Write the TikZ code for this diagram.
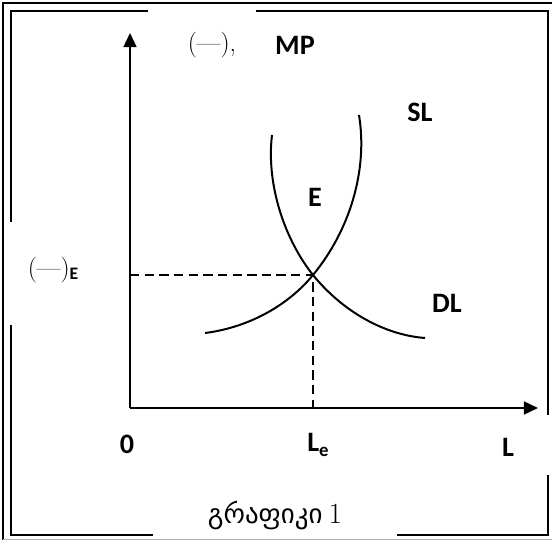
\documentclass[tikz,border=0pt]{standalone}
\usepackage{fontspec}
\setmainfont{Carlito}
\newfontfamily\geofont[Script=Georgian]{DejaVu Sans}
\newfontfamily\lmfont{Latin Modern Roman}
\usetikzlibrary{arrows.meta}

\tikzset{lbl/.style={font=\fontsize{24}{27}\selectfont\bfseries},
axis/.style={line width=1.7pt,-{Triangle[length=12pt,width=11pt]}},
curve/.style={line width=1.7pt},
guide/.style={line width=1.3pt,dash pattern=on 8pt off 4.5pt}}

\begin{document}
\begin{tikzpicture}[x=0.03cm,y=-0.03cm]
\useasboundingbox (0,0) rectangle (552,540);
\draw[line width=1.2pt](3,540)--(3,3)--(552,3);
\draw[gray!60,line width=0.8pt](3,539)--(552,539);
\draw[line width=2pt](148,11)--(11,11)--(11,222)
(11,325)--(11,535)--(153,535)
(397,535)--(548,535)--(548,475)
(548,415)--(548,11)--(256,11);
\coordinate (O) at (130,408);
\coordinate (ytip) at (130,33);
\coordinate (xtip) at (538,408);
\coordinate (eq) at (313,275);
\coordinate (yeq) at (130,275);
\coordinate (xeq) at (313,408);
\draw[axis](O)--(ytip);
\draw[axis](O)--(xtip);
\draw[guide](yeq)--(eq)--(xeq);
\draw[curve](359,115)..controls(368,170)and(350,230)..(eq)..controls(286,308)and(245,328)..(205,333);
\draw[curve](272,135)..controls(266,185)and(285,240)..(eq)..controls(343,312)and(385,335)..(425,338);
\node[font=\lmfont\fontsize{22}{24}\selectfont] (price) at (212,45) {(\textemdash),};
\node[lbl] (mp) at (295,45) {MP};
\node[lbl] (sl) at (420,112) {SL};
\node[lbl] (e) at (315,197) {E};
\node[lbl] (dl) at (447,303) {DL};
\node[font=\lmfont\fontsize{22}{24}\selectfont] (pe) at (53,270) {(\textemdash)\raisebox{-3pt}{\fontsize{15}{16}\selectfont\bfseries\rmfamily E}};
\node[lbl] (zero) at (127,444) {0};
\node[lbl] (le) at (318,445) {L\raisebox{-4pt}{\fontsize{16}{17}\selectfont e}};
\node[lbl] (l) at (508,447) {L};
\node[font=\fontsize{23}{26}\selectfont] (title) at (275,515) {{\geofont გრაფიკი} \lmfont\fontsize{25}{26}\selectfont 1};
\end{tikzpicture}
\end{document}
